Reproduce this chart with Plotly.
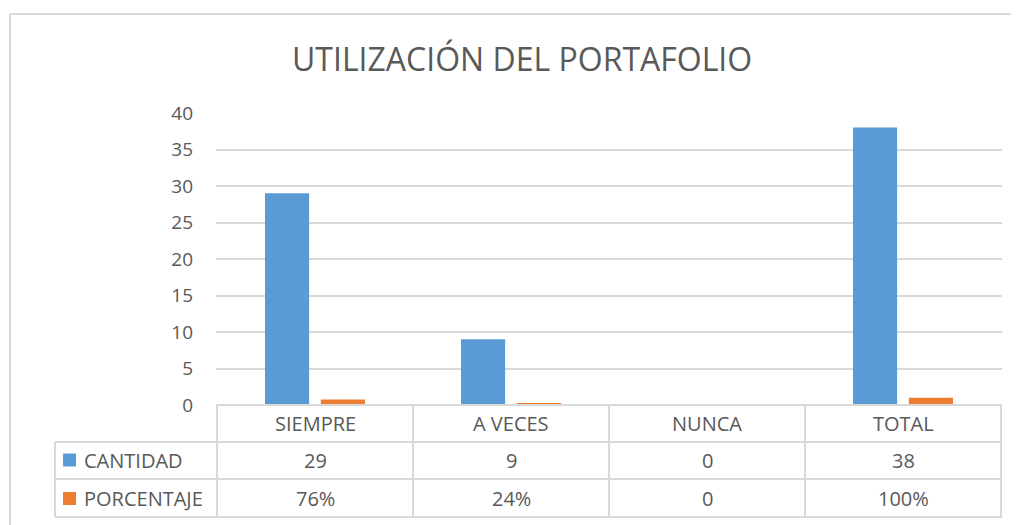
import plotly.graph_objects as go

categorias = ["SIEMPRE", "A VECES", "NUNCA", "TOTAL"]
cantidad = [29, 9, 0, 38]
porcentaje = [0.76, 0.24, 0, 1.0]
y_ticks = [0, 5, 10, 15, 20, 25, 30, 35, 40]

AZUL = "#5B9BD5"
NARANJA = "#ED7D31"
GRIS = "#595959"
LINEA = "#D9D9D9"
FONT = "Open Sans, Arial, sans-serif"

# plot area on the page: x 216..1002, y 113..405 (page body has an 8px margin)
def px(x):
    return (x - 216) / 786

def py(y):
    return (405 - y) / 292

fig = go.Figure()
fig.add_trace(go.Bar(x=categorias, y=cantidad, name="CANTIDAD", marker=dict(color=AZUL, line=dict(width=0))))
fig.add_trace(go.Bar(x=categorias, y=porcentaje, name="PORCENTAJE", marker=dict(color=NARANJA, line=dict(width=0))))

shapes = []
# chart outline
shapes.append(dict(type="line", xref="paper", yref="paper", x0=px(10), x1=px(1040), y0=py(14), y1=py(14), line=dict(color=LINEA, width=2)))
shapes.append(dict(type="line", xref="paper", yref="paper", x0=px(10), x1=px(10), y0=py(14), y1=py(560), line=dict(color=LINEA, width=2)))

# data table grid
row_y = [405, 442, 479, 517]
shapes.append(dict(type="line", xref="paper", yref="paper", x0=0, x1=1, y0=py(row_y[0]), y1=py(row_y[0]), line=dict(color=LINEA, width=2)))
for yy in row_y[1:]:
    shapes.append(dict(type="line", xref="paper", yref="paper", x0=px(55), x1=1, y0=py(yy), y1=py(yy), line=dict(color=LINEA, width=2)))
shapes.append(dict(type="line", xref="paper", yref="paper", x0=px(55), x1=px(55), y0=py(row_y[1]), y1=py(row_y[3]), line=dict(color=LINEA, width=2)))
for i in range(len(categorias) + 1):
    shapes.append(dict(type="line", xref="x", yref="paper", x0=i - 0.5, x1=i - 0.5, y0=py(row_y[0]), y1=py(row_y[3]), line=dict(color=LINEA, width=2)))

# legend keys
for yy, col in [(460, AZUL), (498.5, NARANJA)]:
    shapes.append(dict(type="rect", xref="paper", yref="paper", x0=px(63), x1=px(76), y0=py(yy - 6.5), y1=py(yy + 6.5), fillcolor=col, line=dict(width=0)))

annotations = []
tfont = dict(family=FONT, size=20, color=GRIS)
for cat, c, p in zip(categorias, cantidad, porcentaje):
    annotations.append(dict(x=cat, y=py(423.5), xref="x", yref="paper", text=cat, showarrow=False, font=tfont, xanchor="center", yanchor="middle"))
    annotations.append(dict(x=cat, y=py(460.5), xref="x", yref="paper", text=str(c), showarrow=False, font=tfont, xanchor="center", yanchor="middle"))
    annotations.append(dict(x=cat, y=py(498), xref="x", yref="paper", text=f"{p:.0%}" if p else "0", showarrow=False, font=tfont, xanchor="center", yanchor="middle"))
for label, yy in [("CANTIDAD", 460.5), ("PORCENTAJE", 498)]:
    annotations.append(dict(x=px(82), y=py(yy), xref="paper", yref="paper", text=label, showarrow=False, font=tfont, xanchor="left", yanchor="middle"))

annotations.append(dict(x=px(522), y=py(59), xref="paper", yref="paper", text="UTILIZACIÓN DEL PORTAFOLIO", showarrow=False,
                        font=dict(family=FONT, size=32, color=GRIS), xanchor="center", yanchor="middle"))

fig.update_layout(
    width=1019, height=525,
    margin=dict(l=208, r=25, t=105, b=128),
    barmode="group", bargap=0.43, bargroupgap=0.21,
    showlegend=False,
    plot_bgcolor="white", paper_bgcolor="white",
    font=dict(family=FONT, size=19, color=GRIS),
    shapes=shapes, annotations=annotations,
    xaxis=dict(showticklabels=False, showgrid=False, zeroline=False, showline=False, fixedrange=True),
    yaxis=dict(range=[0, 40], tickvals=y_ticks, showgrid=True, gridcolor=LINEA, gridwidth=1.5, zeroline=False, showline=False,
               ticklabelstandoff=22, tickfont=dict(family=FONT, size=19, color=GRIS), fixedrange=True),
)

fig.write_html("out.html", config={"displayModeBar": False})
